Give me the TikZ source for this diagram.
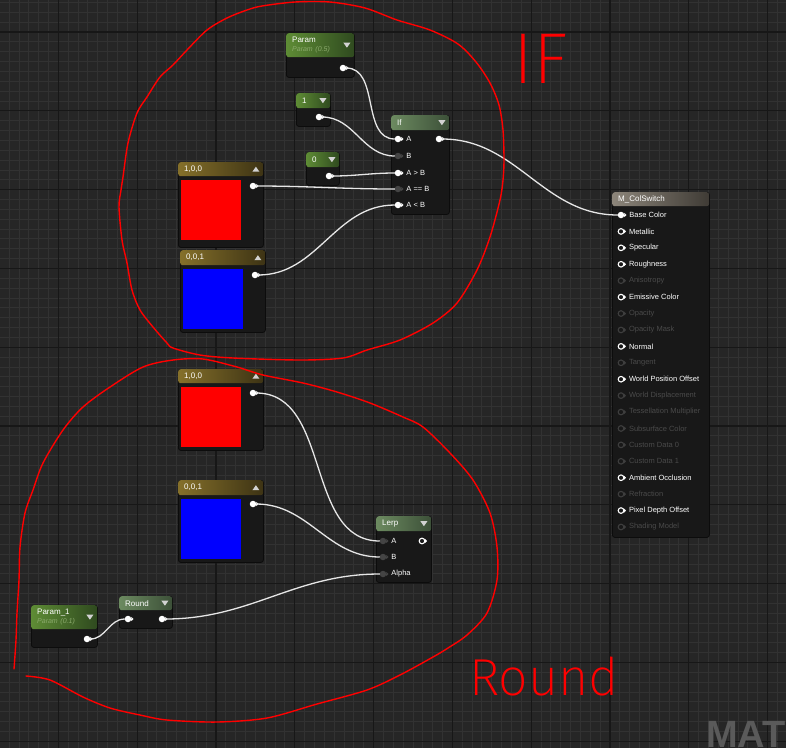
\documentclass[tikz,border=0pt]{standalone}
\usepackage{fontspec}
\setmainfont{Liberation Sans}
\newfontfamily\handfont{Fira Sans}[UprightFont={* ExtraLight}]
\usetikzlibrary{arrows.meta,positioning}
\definecolor{cCanvas}{HTML}{262626}
\definecolor{cMinor}{HTML}{323232}
\definecolor{cMajor}{HTML}{171717}
\definecolor{cBody}{HTML}{181818}
\definecolor{cEdge}{HTML}{0C0C0C}
\definecolor{cParL}{HTML}{5E8C35}
\definecolor{cParR}{HTML}{2F4A1F}
\definecolor{cFunL}{HTML}{6C8A60}
\definecolor{cFunR}{HTML}{3C5038}
\definecolor{cGldL}{HTML}{85702A}
\definecolor{cGldR}{HTML}{3D3314}
\definecolor{cMatL}{HTML}{8C857A}
\definecolor{cMatR}{HTML}{3F3B35}
\definecolor{cSub}{HTML}{8BAA6C}
\definecolor{cDimTxt}{HTML}{4A4A4A}
\definecolor{cPinDim}{HTML}{3E3E3E}
\definecolor{cPinOff}{HTML}{444444}
\definecolor{cTri}{HTML}{D2D2D2}
\definecolor{cWire}{HTML}{E6E6E6}
\definecolor{cPen}{HTML}{FF0000}
\definecolor{cStamp}{HTML}{5A5A5A}
\newcommand\ttlfont{\fontsize{8}{9.5}\selectfont}
\newcommand\pinfont{\fontsize{7.5}{9}\selectfont}
\newcommand\subttl{\color{cSub}\itshape\fontsize{7}{8}\selectfont}
\tikzset{x=1pt,y=-1pt,
  minorline/.style={draw=cMinor,line width=0.8pt},
  majorline/.style={draw=cMajor,line width=1.2pt},
  body/.style={draw=cEdge,fill=cBody,line width=0.8pt,rounded corners=2.5pt,anchor=north west,inner sep=0pt},
  hdr/.style={anchor=north west,rounded corners=2.5pt,inner xsep=6pt,inner ysep=0pt,align=left,text=white,font=\ttlfont},
  hdrparam/.style={hdr,left color=cParL,right color=cParR},
  hdrfunc/.style={hdr,left color=cFunL,right color=cFunR},
  hdrgold/.style={hdr,left color=cGldL,right color=cGldR},
  hdrmat/.style={hdr,left color=cMatL,right color=cMatR},
  swatch/.style={anchor=north west,inner sep=0pt,minimum width=60pt,minimum height=60pt},
  ptip/.style={append after command={(\tikzlastnode.east) edge[-{Triangle[length=2.2pt,width=4.2pt]},draw=#1,line width=0.2pt] ++(2.2,0)}},
  pinbase/.style={circle,inner sep=0pt,outer sep=0pt,minimum size=6.5pt},
  pinon/.style={pinbase,fill=white,ptip=white},
  pinoff/.style={pinbase,fill=cPinOff,ptip=cPinOff},
  pinring/.style={pinbase,minimum size=5.6pt,draw=white,line width=1.1pt,ptip=white},
  pindim/.style={pinbase,minimum size=5.6pt,draw=cPinDim,line width=1.1pt,ptip=cPinDim},
  lbl/.style={inner sep=0pt,text=white,font=\pinfont},
  lblon/.style={lbl},lblring/.style={lbl},lbldim/.style={lbl,text=cDimTxt},
  wire/.style={draw=cWire,line width=1.3pt},
  pen/.style={draw=cPen,line width=1.4pt,line join=round,line cap=round},
  hand/.style={text=cPen,inner sep=0pt},
  stamp/.style={text=cStamp,inner sep=0pt,font=\bfseries\fontsize{38}{38}\selectfont}}

\begin{document}
\begin{tikzpicture}
\useasboundingbox (0,0) rectangle (786,748);
\clip (0,0) rectangle (786,748);
\fill[cCanvas] (0,0) rectangle (786,748);
\foreach \i in {0,...,79} \draw[minorline] ({9.05+9.85*\i},0) -- ++(0,748);
\foreach \j in {0,...,75} \draw[minorline] (0,{2.45+9.85*\j}) -- ++(786,0);
\foreach \i in {-1,...,9} \draw[majorline] ({58.3+78.8*\i},0) -- ++(0,748);
\foreach \j in {0,...,9} \draw[majorline] (0,{32+78.8*\j}) -- ++(786,0);

% if branch
\node[body,minimum width=68pt,minimum height=44pt] (nParam) at (286,33) {};
\node[hdrparam,minimum height=24pt,text width=56pt] (hParam) at (286,33) {Param\\{\subttl Param (0.5)}};
\node[pinon] (oParam) at (343,68) {};
\node[body,minimum width=34pt,minimum height=33pt] (nOne) at (296,93) {};
\node[hdrparam,minimum height=15pt,text width=22pt] (hOne) at (296,93) {1};
\node[pinon] (oOne) at (319,117) {};
\node[body,minimum width=33pt,minimum height=33pt] (nZero) at (306,152) {};
\node[hdrparam,minimum height=15pt,text width=21pt] (hZero) at (306,152) {0};
\node[pinon] (oZero) at (329,176) {};
\node[body,minimum width=85pt,minimum height=85pt] (nRedA) at (178,162) {};
\node[hdrgold,minimum height=14pt,text width=73pt] (hRedA) at (178,162) {1,0,0};
\node[swatch,fill=red] (sRedA) at (181,180) {};
\node[pinon] (oRedA) at (253,186) {};
\node[body,minimum width=85pt,minimum height=82pt] (nBlueA) at (180,250) {};
\node[hdrgold,minimum height=15pt,text width=73pt] (hBlueA) at (180,250) {0,0,1};
\node[swatch,fill=blue] (sBlueA) at (183,269) {};
\node[pinon] (oBlueA) at (255,275) {};
\node[body,minimum width=58pt,minimum height=99pt] (nIf) at (391,115) {};
\node[hdrfunc,minimum height=15pt,text width=46pt] (hIf) at (391,115) {If};
\node[pinon] (iA) at (398,139) {};
\node[pinoff] (iB) at (398,156) {};
\node[pinon] (iGt) at (398,173) {};
\node[pinoff] (iEq) at (398,189) {};
\node[pinon] (iLt) at (398,205) {};
\node[pinon] (oIf) at (439,139) {};
\node[lbl,right=5pt of iA] (lA) {A};
\node[lbl,right=5pt of iB] (lB) {B};
\node[lbl,right=5pt of iGt] (lGt) {A > B};
\node[lbl,right=5pt of iEq] (lEq) {A == B};
\node[lbl,right=5pt of iLt] (lLt) {A < B};

% round branch
\node[body,minimum width=85pt,minimum height=81pt] (nRedB) at (178,369) {};
\node[hdrgold,minimum height=14pt,text width=73pt] (hRedB) at (178,369) {1,0,0};
\node[swatch,fill=red] (sRedB) at (181,387) {};
\node[pinon] (oRedB) at (253,393) {};
\node[body,minimum width=85pt,minimum height=82pt] (nBlueB) at (178,480) {};
\node[hdrgold,minimum height=15pt,text width=73pt] (hBlueB) at (178,480) {0,0,1};
\node[swatch,fill=blue] (sBlueB) at (181,499) {};
\node[pinon] (oBlueB) at (253,504) {};
\node[body,minimum width=55pt,minimum height=66pt] (nLerp) at (376,516) {};
\node[hdrfunc,minimum height=15pt,text width=43pt] (hLerp) at (376,516) {Lerp};
\node[pinoff] (lpA) at (383,541) {};
\node[pinoff] (lpB) at (383,557) {};
\node[pinoff] (lpAlpha) at (383,574) {};
\node[pinring] (oLerp) at (422,541) {};
\node[lbl,right=5pt of lpA] (llA) {A};
\node[lbl,right=5pt of lpB] (llB) {B};
\node[lbl,right=5pt of lpAlpha] (llAlpha) {Alpha};
\node[body,minimum width=53pt,minimum height=32pt] (nRound) at (119,596) {};
\node[hdrfunc,minimum height=14pt,text width=41pt] (hRound) at (119,596) {Round};
\node[pinon] (iRound) at (128,619) {};
\node[pinon] (oRound) at (162,619) {};
\node[body,minimum width=66pt,minimum height=42pt] (nParamOne) at (31,605) {};
\node[hdrparam,minimum height=24pt,text width=54pt] (hParamOne) at (31,605) {Param\_1\\{\subttl Param (0.1)}};
\node[pinon] (oParamOne) at (87,639) {};

% material
\node[body,minimum width=97pt,minimum height=345pt] (nMat) at (612,192) {};
\node[hdrmat,minimum height=14pt,text width=85pt] (hMat) at (612,192) {M\_ColSwitch};
\foreach \t/\s [count=\k from 0] in {Base Color/on,Metallic/ring,Specular/ring,Roughness/ring,
  Anisotropy/dim,Emissive Color/ring,Opacity/dim,Opacity Mask/dim,Normal/ring,Tangent/dim,
  World Position Offset/ring,World Displacement/dim,Tessellation Multiplier/dim,Subsurface Color/dim,
  Custom Data 0/dim,Custom Data 1/dim,Ambient Occlusion/ring,Refraction/dim,Pixel Depth Offset/ring,Shading Model/dim}
{
  \node[pin\s] (m\k) at (621,{215+16.42*\k}) {};
  \node[lbl\s,right=5pt of m\k] (ml\k) {\t};
}

\foreach \h in {hParam,hOne,hZero,hIf,hLerp,hRound,hParamOne}
  \fill[cTri] ([xshift=-11pt,yshift=2.5pt]\h.east) -- ++(7,0) -- ++(-3.5,5) -- cycle;
\foreach \h in {hRedA,hBlueA,hRedB,hBlueB}
  \fill[cTri] ([xshift=-11pt,yshift=-2.5pt]\h.east) -- ++(7,0) -- ++(-3.5,-5) -- cycle;

\path
  (oParam) edge[wire,out=0,in=180] (iA)
  (oOne) edge[wire,out=0,in=180] (iB)
  (oZero) edge[wire,out=0,in=180] (iGt)
  (oRedA) edge[wire,out=0,in=180] (iEq)
  (oBlueA) edge[wire,out=0,in=180] (iLt)
  (oIf) edge[wire,out=0,in=180] (m0)
  (oRedB) edge[wire,out=0,in=180] (lpA)
  (oBlueB) edge[wire,out=0,in=180] (lpB)
  (oParamOne) edge[wire,out=0,in=180] (iRound)
  (oRound) edge[wire,out=0,in=180] (lpAlpha)
  ;

\node[stamp,anchor=base west] (tMat) at (706,747) {MAT};

% annotations
\draw[pen] plot[smooth cycle,tension=0.5] coordinates {(119,207) (121,190) (123,177) (128,143) (137,113)
  (147,97) (160,77) (173,65) (187,50) (207,30) (227,18) (247,10) (262,6) (295,2) (330,2) (365,8) (397,20)
  (430,30) (458,44) (476,62) (490,83) (499,105) (503,130) (504,160) (503,180) (500,200) (490,237) (477,270)
  (457,303) (433,323) (400,340) (367,350) (343,358) (300,360) (233,358) (200,355) (173,348) (167,343)
  (153,327) (140,310) (132,290) (127,263) (122,240)};
\draw[pen] plot[smooth,tension=0.5] coordinates {(14,669) (16,640) (17,613) (19,580) (20,547) (25,513)
  (33,490) (43,463) (63,430) (83,407) (110,387) (143,367) (173,360) (203,359) (237,367) (263,375) (303,383)
  (337,392) (370,403) (403,417) (423,427) (450,453) (473,480) (490,513) (497,547) (497,580) (487,613)
  (467,635) (448,648) (433,657) (400,675) (367,690) (317,704) (267,718) (217,722) (167,720) (140,715)
  (110,708) (83,697) (50,680) (26,676)};
\node[hand,font=\handfont\fontsize{72}{72}\selectfont,anchor=base west] (tIf) at (513,83) {IF};
\node[hand,font=\handfont\fontsize{52}{52}\selectfont,anchor=base west] (tRound) at (469,695) {Round};
\end{tikzpicture}
\end{document}
